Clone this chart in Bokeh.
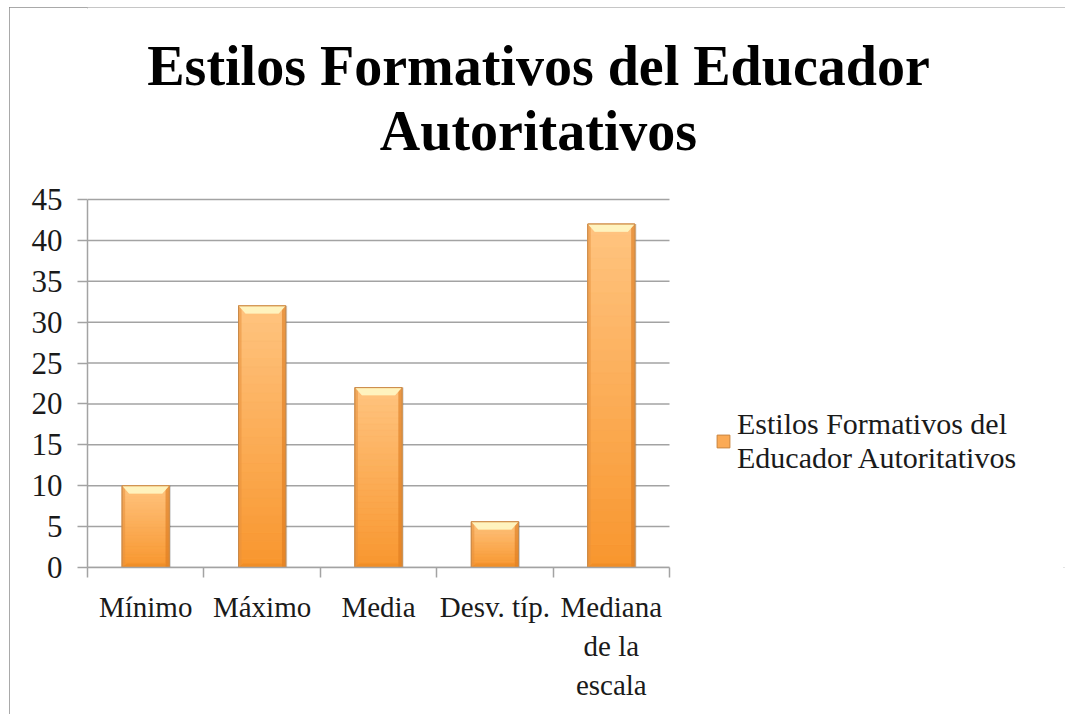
import numpy as np
from bokeh.plotting import figure
from bokeh.models import (Range1d, FixedTicker, Legend, LegendItem, Label)
from bokeh.embed import file_html
from bokeh.resources import INLINE

# ---- data ----
categories = ["Mínimo", "Máximo", "Media", "Desv. típ.", "Mediana\nde la\nescala"]
values = [10, 32, 22, 5.6, 42]
y_ticks = [0, 5, 10, 15, 20, 25, 30, 35, 40, 45]
title_lines = ["Estilos Formativos del Educador", "Autoritativos"]
series_name = "Estilos Formativos del\nEducador Autoritativos"

FONT = "Liberation Serif"
OX, OY = 9, 7            # page offset of the bordered chart box
W, H = 1056, 707
n = len(categories)
y_max = 45
centers = [i + 0.5 for i in range(n)]
bw = 0.405

# page pixel geometry of the value area; the frame covers the whole box so that
# title and legend (drawn as annotations) are not clipped
FL, FR_CAT, FR = 87, 669, 1065
FB, FT_VAL, FT = 567, 199, OY
px_x = (FR_CAT - FL) / n
px_y = (FB - FT_VAL) / y_max
x_end = n + (FR - FR_CAT) / px_x
y_end = y_max + (FT_VAL - FT) / px_y

p = figure(width=W, height=H, output_backend="svg", toolbar_location=None,
           x_range=Range1d(0, x_end), y_range=Range1d(0, y_end),
           min_border_left=FL - OX, min_border_right=0,
           min_border_top=0, min_border_bottom=714 - FB,
           margin=(OY, 0, 0, OX))
p.styles = {"outline": "2.5px solid #8C8C8C", "outline-offset": "-2.5px"}
p.title.text = ""
p.title.visible = False
p.background_fill_color = "white"
p.border_fill_color = "white"
p.outline_line_color = None

GRID = "#A3A3A3"
# x axis
p.xaxis.bounds = (0, n)
p.xaxis.ticker = FixedTicker(ticks=centers, minor_ticks=list(range(n + 1)))
p.xaxis.major_label_overrides = {c: lab for c, lab in zip(centers, categories)}
p.xaxis.major_tick_out = 0
p.xaxis.major_tick_in = 0
p.xaxis.minor_tick_out = 10
p.xaxis.minor_tick_in = 0
p.xaxis.minor_tick_line_color = GRID
p.xaxis.minor_tick_line_width = 1.5
p.xaxis.axis_line_color = GRID
p.xaxis.axis_line_width = 1.5
p.xaxis.major_label_text_font = FONT
p.xaxis.major_label_text_font_size = "29px"
p.xaxis.major_label_text_color = "#1a1a1a"
p.xaxis.major_label_standoff = 13
p.xaxis.major_label_text_line_height = 1.22

# y axis
p.yaxis.bounds = (0, y_max)
p.yaxis.ticker = FixedTicker(ticks=y_ticks, minor_ticks=[])
p.yaxis.major_tick_out = 10
p.yaxis.major_tick_in = 0
p.yaxis.major_tick_line_color = GRID
p.yaxis.major_tick_line_width = 1.5
p.yaxis.axis_line_color = GRID
p.yaxis.axis_line_width = 1.5
p.yaxis.major_label_text_font = FONT
p.yaxis.major_label_text_font_size = "31px"
p.yaxis.major_label_text_color = "#1a1a1a"
p.yaxis.major_label_standoff = 15

# horizontal gridlines limited to the category area
p.xgrid.grid_line_color = None
p.ygrid.grid_line_color = None
p.segment(x0=0, x1=n, y0=y_ticks, y1=y_ticks, line_color=GRID, line_width=1.5)

# ---- bars ----
p.vbar(x=[c + 0.006 for c in centers], top=values, bottom=0, width=bw + 0.014,
       fill_color="black", fill_alpha=0.18, line_color=None)
base = p.vbar(x=centers, top=values, bottom=0, width=bw,
              fill_color="#FBAA55", line_color="#C9823A", line_width=1)

top_c = np.array([255, 196, 128])
bot_c = np.array([248, 150, 46])
N = 30
for k in range(N):
    t = (k + 0.5) / N
    col = bot_c + (top_c - bot_c) * t
    hx = "#%02x%02x%02x" % tuple(int(round(v)) for v in col)
    p.vbar(x=centers, bottom=[v * k / N for v in values],
           top=[v * (k + 1) / N for v in values], width=bw,
           fill_color=hx, line_color=hx, line_width=0.6)

p.vbar(x=[c - bw / 2 + 0.013 for c in centers], top=values, bottom=0, width=0.026,
       fill_color="#E8913E", fill_alpha=0.55, line_color=None)
p.vbar(x=[c + bw / 2 - 0.016 for c in centers], top=values, bottom=0, width=0.032,
       fill_color="#DC7A1E", fill_alpha=0.6, line_color=None)
dx, dy = 0.06, 0.95
p.patches(xs=[[c - bw / 2, c + bw / 2, c + bw / 2 - dx, c - bw / 2 + dx] for c in centers],
          ys=[[v, v, v - dy, v - dy] for v in values],
          fill_color="#FFE9A8", line_color=None)
p.patches(xs=[[c - bw / 2 + 0.01, c + bw / 2 - 0.01, c + bw / 2 - dx, c - bw / 2 + dx] for c in centers],
          ys=[[v - 0.12, v - 0.12, v - dy, v - dy] for v in values],
          fill_color="#FFF6C8", fill_alpha=0.7, line_color=None)
p.patches(xs=[[c - bw / 2, c + bw / 2, c + bw / 2 - 0.04, c - bw / 2 + 0.04] for c in centers],
          ys=[[0, 0, 0.5, 0.5] for v in values],
          fill_color="#E8861F", fill_alpha=0.5, line_color=None)
p.vbar(x=centers, top=values, bottom=0, width=bw, fill_color=None,
       line_color="#C98A4A", line_width=1)

# ---- title (two lines, centred on the chart box) ----
tx = (538 - FL) / px_x
for txt, base_y in [(title_lines[0], 65), (title_lines[1], 130)]:
    p.add_layout(Label(x=tx, y=(FB - base_y) / px_y, text=txt,
                       text_align="center", text_baseline="alphabetic",
                       text_font=FONT, text_font_style="bold",
                       text_font_size="56px", text_color="black"))

# ---- legend ----
leg = Legend(items=[LegendItem(label=series_name, renderers=[base])],
             location=(715 - FL, FB - 475), orientation="vertical",
             label_text_font=FONT, label_text_font_size="30px",
             label_text_color="#1a1a1a", glyph_width=16, glyph_height=16,
             label_standoff=6, padding=0, spacing=0, margin=0,
             label_text_line_height=1.2,
             border_line_color=None, background_fill_alpha=0)
p.add_layout(leg, "center")

open("out.html", "w").write(file_html(p, INLINE))
